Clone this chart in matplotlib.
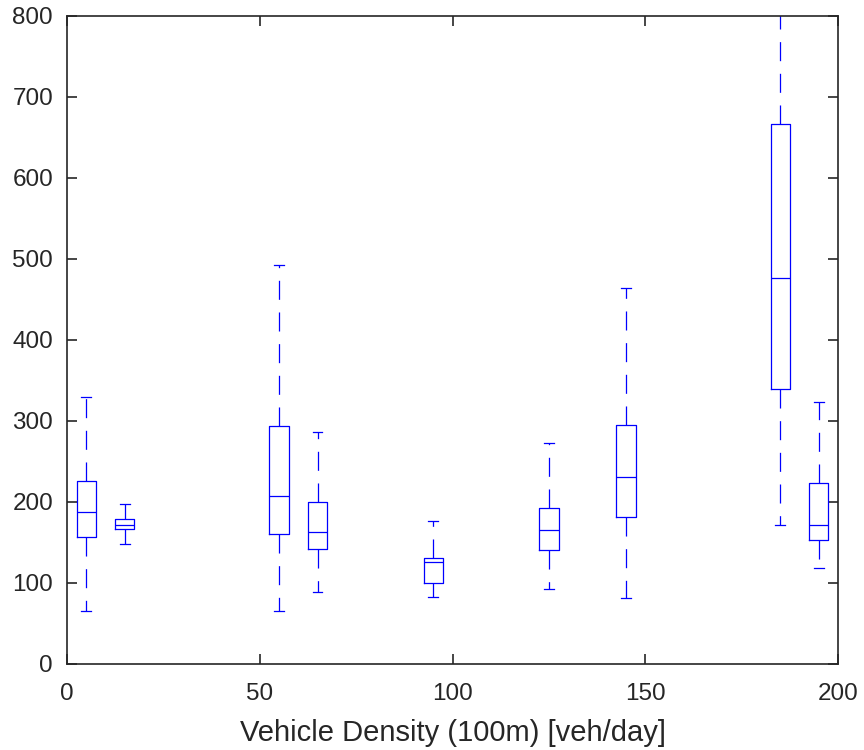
import matplotlib
matplotlib.use('Agg')
import matplotlib.pyplot as plt

# box stats
positions = [5, 15, 55, 65, 95, 125, 145, 185, 195]
whis_lo = [65, 148, 66, 89, 83, 93, 81, 172, 118]
q1 = [157, 167, 161, 142, 100, 141, 182, 339, 153]
med = [188, 171, 207, 163, 126, 166, 231, 476, 172]
q3 = [226, 179, 294, 200, 131, 193, 295, 667, 223]
whis_hi = [329, 197, 492, 287, 176, 273, 464, 860, 323]

xticks = [0, 50, 100, 150, 200]
yticks = [0, 100, 200, 300, 400, 500, 600, 700, 800]

plt.rcParams['font.family'] = ['Liberation Sans', 'DejaVu Sans']
plt.rcParams['lines.scale_dashes'] = False

stats = []
for i in range(len(positions)):
    stats.append({'med': med[i], 'q1': q1[i], 'q3': q3[i],
                  'whislo': whis_lo[i], 'whishi': whis_hi[i], 'fliers': []})

fig = plt.figure(figsize=(8.64, 7.5), dpi=100)
ax = fig.add_axes([0.0775, 0.1147, 0.8925, 0.864])

blue = (0, 0, 1)
lw = 0.9
ax.bxp(stats, positions=positions, widths=5, capwidths=2.5,
       boxprops=dict(color=blue, linewidth=lw),
       medianprops=dict(color=blue, linewidth=lw),
       whiskerprops=dict(color=blue, linewidth=lw, linestyle=(0, (13.7, 9.1))),
       capprops=dict(color=blue, linewidth=lw),
       showfliers=False, manage_ticks=False)

ax.set_xlim(0, 200)
ax.set_ylim(0, 800)
ax.set_xticks(xticks)
ax.set_yticks(yticks)
ax.set_xticklabels([str(t) for t in xticks])
ax.set_yticklabels([str(t) for t in yticks])

dark = (0.15, 0.15, 0.15)
for s in ax.spines.values():
    s.set_color(dark)
    s.set_linewidth(1.2)
ax.tick_params(direction='in', top=True, right=True, length=7, width=1.2,
               colors=dark, labelsize=17.5)
ax.tick_params(axis='x', pad=13.5)
ax.tick_params(axis='y', pad=10)
ax.set_xlabel('Vehicle Density (100m) [veh/day]', fontsize=21, color=dark, labelpad=10)

fig.savefig('out.png', dpi=100)
